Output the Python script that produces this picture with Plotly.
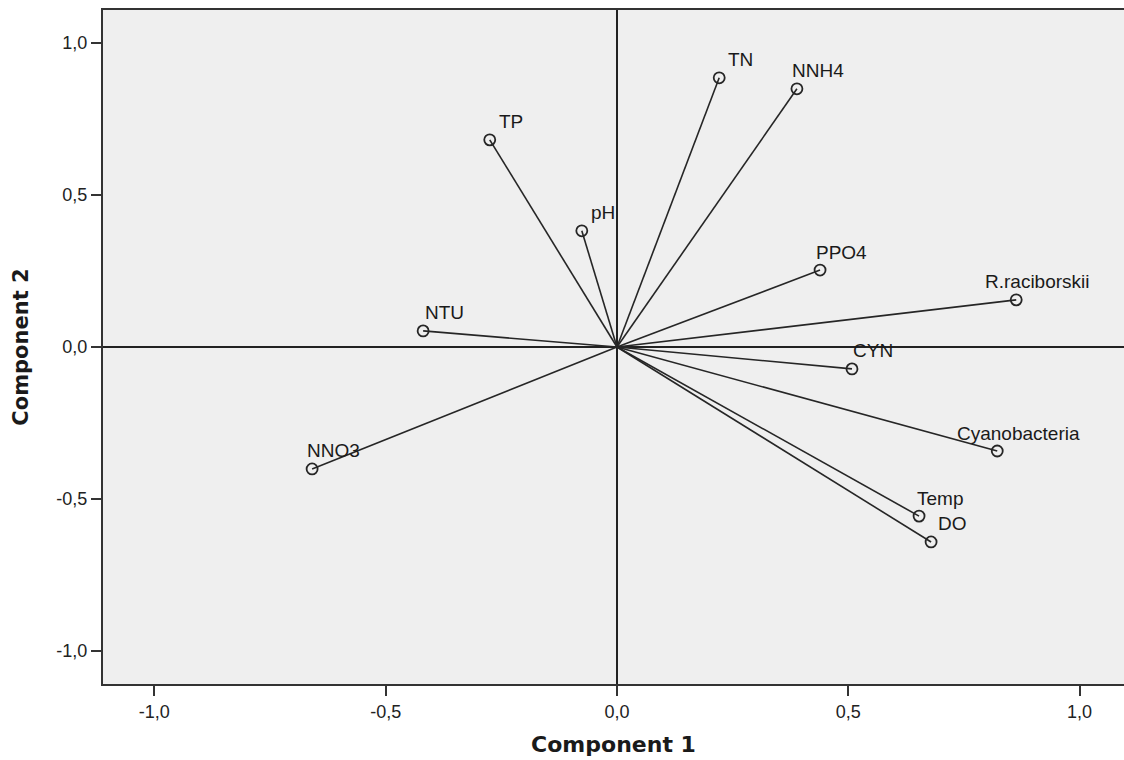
import plotly.graph_objects as go

variables = ["TN", "NNH4", "TP", "pH", "PPO4", "R.raciborskii", "NTU", "CYN",
             "Cyanobacteria", "NNO3", "Temp", "DO"]
comp1 = [0.221, 0.389, -0.275, -0.076, 0.439, 0.863, -0.419, 0.508, 0.822, -0.659, 0.653, 0.679]
comp2 = [0.885, 0.849, 0.681, 0.382, 0.253, 0.155, 0.053, -0.072, -0.342, -0.401, -0.556, -0.641]
tick_vals = [-1.0, -0.5, 0.0, 0.5, 1.0]
tick_text = ["-1,0", "-0,5", "0,0", "0,5", "1,0"]

fig = go.Figure()
line_color = "#262626"
for name, x, y in zip(variables, comp1, comp2):
    fig.add_trace(go.Scatter(x=[0, x], y=[0, y], mode="lines",
                             line=dict(color=line_color, width=1.6),
                             showlegend=False, hoverinfo="skip"))
fig.add_trace(go.Scatter(x=comp1, y=comp2, mode="markers", text=variables,
                         marker=dict(symbol="circle-open", size=11, color=line_color,
                                     line=dict(width=1.8, color=line_color)),
                         showlegend=False))
for name, x, y in zip(variables, comp1, comp2):
    fig.add_annotation(x=x, y=y, xref="x", yref="y", text=name, showarrow=False,
                       xshift=21, yshift=18,
                       font=dict(family="Liberation Sans, Arial", size=19, color="#1a1a1a"))

axis_common = dict(
    tickvals=tick_vals, ticktext=tick_text, ticks="outside", ticklen=10, tickwidth=2,
    tickcolor="#333333", showgrid=False, showline=True, linecolor="#333333", linewidth=2,
    zeroline=True, zerolinecolor="#222222", zerolinewidth=2,
    tickfont=dict(family="Liberation Sans, Arial", size=18, color="#222222"),
)
title_font = dict(family="DejaVu Sans", size=22, color="#1a1a1a")
fig.update_xaxes(range=[-1.111, 1.096], mirror=True,
                 title=dict(text="<b>Component 1</b>", standoff=16, font=title_font),
                 **axis_common)
fig.update_yaxes(range=[-1.108, 1.108], mirror=False,
                 title=dict(text="<b>Component 2</b>", standoff=22,
                            font=dict(family="DejaVu Sans", size=21, color="#1a1a1a")),
                 **axis_common)

fig.update_layout(
    width=1124, height=760,
    margin=dict(l=103, r=0, t=10, b=76),
    plot_bgcolor="#efefef", paper_bgcolor="white",
    font=dict(family="Liberation Sans, Arial"),
)
fig.write_html("out.html", config={"displayModeBar": False},
               post_script="document.body.style.margin='0';")
